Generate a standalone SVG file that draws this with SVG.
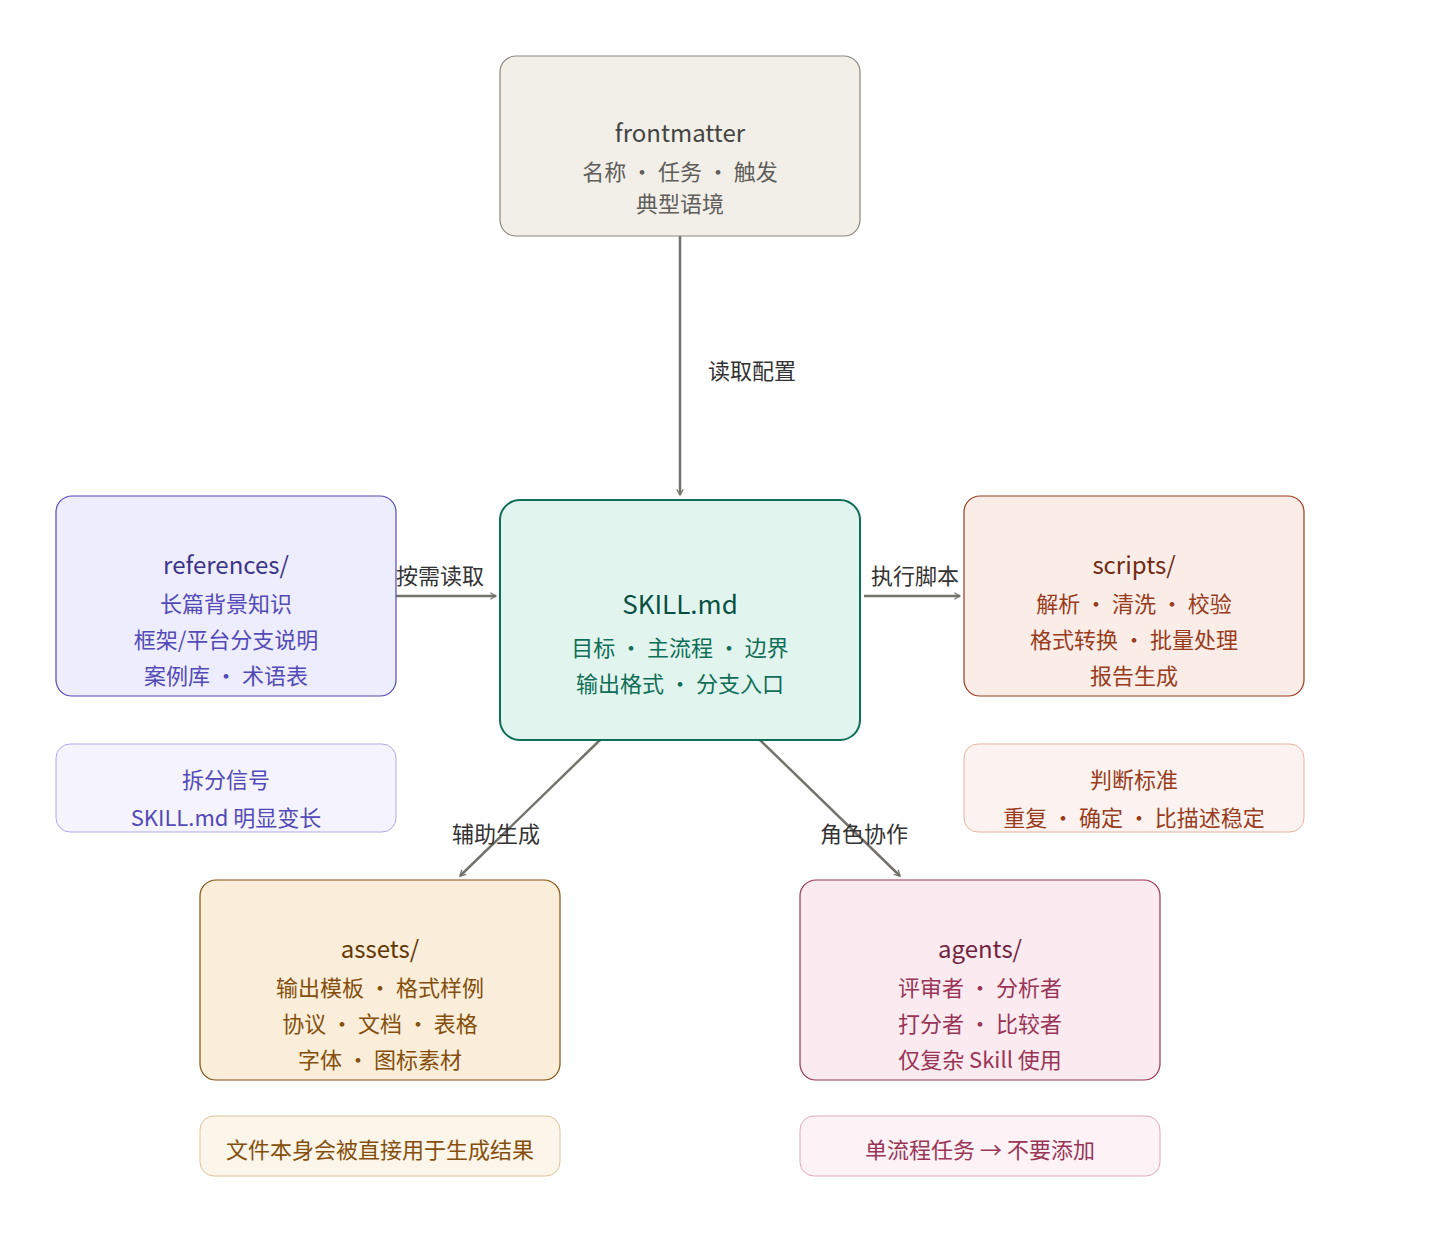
<svg xmlns="http://www.w3.org/2000/svg" width="1440" height="1240" viewBox="0 0 1440 1240">
<style>
text{font-family:"Noto Sans CJK SC","Noto Sans",sans-serif;text-anchor:middle;dominant-baseline:central}
.t{font-size:24px}.s{font-size:22px}.l{font-size:22px;fill:#333}
.e{stroke:#73726c;stroke-width:2.5;fill:none}
</style>
<defs><marker id="a" viewBox="0 0 10 10" refX="8" refY="5" markerWidth="8" markerHeight="8" orient="auto-start-reverse" markerUnits="userSpaceOnUse"><path d="M1 1L8 5L1 9" fill="none" stroke="#73726c" stroke-width="1.6"/></marker></defs>
<rect width="1440" height="1240" fill="#fff"/>
<g id="connectors">
<line class="e" x1="680" y1="236" x2="680" y2="495" marker-end="url(#a)" style="marker-end:url(#a)"/>
<line class="e" x1="396" y1="596" x2="496" y2="596" marker-end="url(#a)"/>
<line class="e" x1="864" y1="596" x2="960" y2="596" marker-end="url(#a)"/>
<line class="e" x1="600" y1="740" x2="460" y2="876" marker-end="url(#a)"/>
<line class="e" x1="760" y1="740" x2="900" y2="876" marker-end="url(#a)"/>
<text class="l" x="752" y="369">读取配置</text>
<text class="l" x="440" y="574">按需读取</text>
<text class="l" x="915" y="574">执行脚本</text>
<text class="l" x="496" y="832">辅助生成</text>
<text class="l" x="864" y="832">角色协作</text>
</g>
<g id="frontmatter"><rect x="500" y="56" width="360" height="180" rx="16" fill="#f1efe8" stroke="#888780" stroke-width="1.2"/>
<text class="t" x="680" y="131" fill="#444441">frontmatter</text><text class="s" x="680" y="170" fill="#5f5e5a">名称 · 任务 · 触发</text><text class="s" x="680" y="202" fill="#5f5e5a">典型语境</text></g>
<g id="skill"><rect x="500" y="500" width="360" height="240" rx="20" fill="#e1f5ee" stroke="#0f6e56" stroke-width="2"/>
<text class="t" x="680" y="602" fill="#085041" style="font-size:26px">SKILL.md</text><text class="s" x="680" y="646" fill="#0f6e56">目标 · 主流程 · 边界</text><text class="s" x="680" y="682" fill="#0f6e56">输出格式 · 分支入口</text></g>
<g id="references"><rect x="56" y="496" width="340" height="200" rx="16" fill="#eeedfe" stroke="#534ab7" stroke-width="1.2"/>
<text class="t" x="226" y="563" fill="#3c3489">references/</text><text class="s" x="226" y="602" fill="#534ab7">长篇背景知识</text><text class="s" x="226" y="638" fill="#534ab7">框架/平台分支说明</text><text class="s" x="226" y="674" fill="#534ab7">案例库 · 术语表</text></g>
<g id="ref-note"><rect x="56" y="744" width="340" height="88" rx="14" fill="#f5f4fe" stroke="#afa9ec" stroke-width="1"/>
<text class="s" x="226" y="778" fill="#534ab7">拆分信号</text><text class="s" x="226" y="816" fill="#534ab7">SKILL.md 明显变长</text></g>
<g id="scripts"><rect x="964" y="496" width="340" height="200" rx="16" fill="#faece7" stroke="#993c1d" stroke-width="1.2"/>
<text class="t" x="1134" y="563" fill="#712b13">scripts/</text><text class="s" x="1134" y="602" fill="#993c1d">解析 · 清洗 · 校验</text><text class="s" x="1134" y="638" fill="#993c1d">格式转换 · 批量处理</text><text class="s" x="1134" y="674" fill="#993c1d">报告生成</text></g>
<g id="scripts-note"><rect x="964" y="744" width="340" height="88" rx="14" fill="#fcf3f0" stroke="#e5b5a3" stroke-width="1"/>
<text class="s" x="1134" y="778" fill="#993c1d">判断标准</text><text class="s" x="1134" y="816" fill="#993c1d">重复 · 确定 · 比描述稳定</text></g>
<g id="assets"><rect x="200" y="880" width="360" height="200" rx="16" fill="#faeeda" stroke="#854f0b" stroke-width="1.2"/>
<text class="t" x="380" y="947" fill="#633806">assets/</text><text class="s" x="380" y="986" fill="#854f0b">输出模板 · 格式样例</text><text class="s" x="380" y="1022" fill="#854f0b">协议 · 文档 · 表格</text><text class="s" x="380" y="1058" fill="#854f0b">字体 · 图标素材</text></g>
<g id="assets-note"><rect x="200" y="1116" width="360" height="60" rx="14" fill="#fcf5ea" stroke="#dcc39a" stroke-width="1"/>
<text class="s" x="380" y="1148" fill="#854f0b">文件本身会被直接用于生成结果</text></g>
<g id="agents"><rect x="800" y="880" width="360" height="200" rx="16" fill="#fbeaf0" stroke="#993556" stroke-width="1.2"/>
<text class="t" x="980" y="947" fill="#72243e">agents/</text><text class="s" x="980" y="986" fill="#993556">评审者 · 分析者</text><text class="s" x="980" y="1022" fill="#993556">打分者 · 比较者</text><text class="s" x="980" y="1058" fill="#993556">仅复杂 Skill 使用</text></g>
<g id="agents-note"><rect x="800" y="1116" width="360" height="60" rx="14" fill="#fdf3f6" stroke="#e2a9bd" stroke-width="1"/>
<text class="s" x="980" y="1148" fill="#993556">单流程任务 → 不要添加</text></g>
</svg>
